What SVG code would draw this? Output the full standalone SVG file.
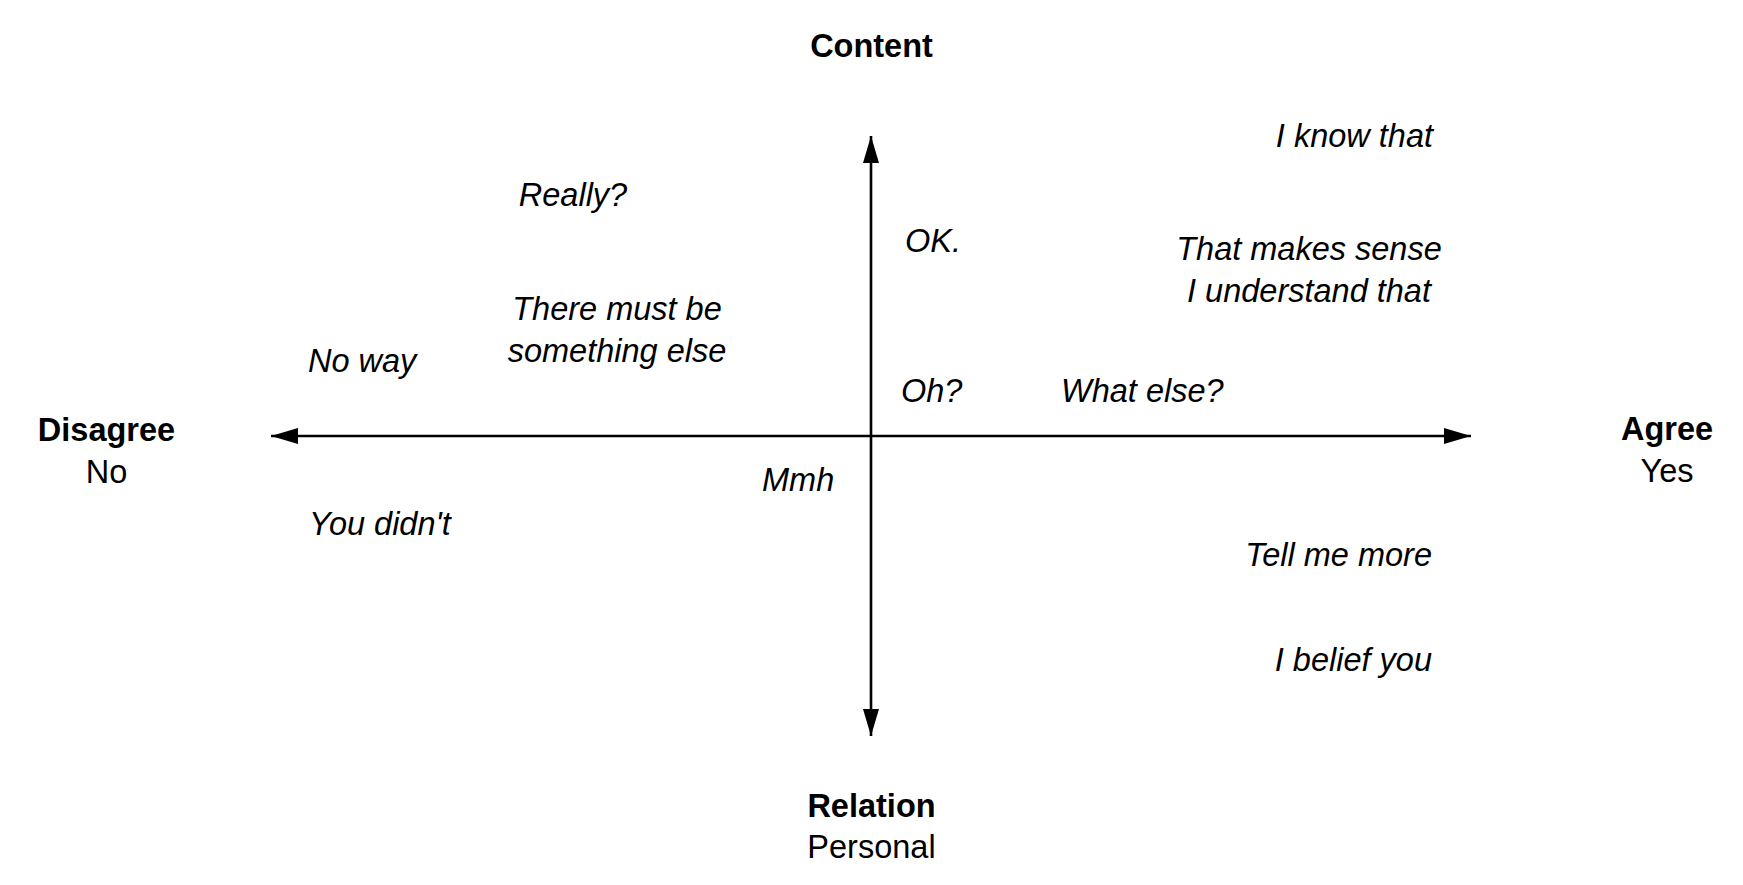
<svg xmlns="http://www.w3.org/2000/svg" width="1743" height="885" viewBox="0 0 1743 885">
<style>
text { font-family: "Liberation Sans", Arial, Helvetica, sans-serif; font-size: 32.5px; fill: #000; }
.b { font-weight: bold; }
.i { font-style: italic; }
.axis { stroke: #000; stroke-width: 2.6; fill: none; }
</style>
<defs>
<marker id="arr" markerUnits="userSpaceOnUse" markerWidth="28" markerHeight="18" refX="27" refY="8" orient="auto" viewBox="0 0 28 16">
<path d="M0,0 L27,8 L0,16 Z" fill="#000"/>
</marker>
</defs>
<rect width="1743" height="885" fill="#fff"/>
<g id="connectors">
<line class="axis" x1="871" y1="436" x2="871" y2="136" marker-end="url(#arr)"/>
<line class="axis" x1="871" y1="436" x2="871" y2="736" marker-end="url(#arr)"/>
<line class="axis" x1="871" y1="436" x2="271" y2="436" marker-end="url(#arr)"/>
<line class="axis" x1="871" y1="436" x2="1471" y2="436" marker-end="url(#arr)"/>
</g>
<g id="content"><text class="b" x="871.5" y="56.5" text-anchor="middle">Content</text></g>
<g id="relation"><text class="b" x="871.5" y="816.5" text-anchor="middle">Relation</text><text x="871.5" y="857.5" text-anchor="middle">Personal</text></g>
<g id="disagree"><text class="b" x="106.5" y="441" text-anchor="middle">Disagree</text><text x="106.5" y="483" text-anchor="middle">No</text></g>
<g id="agree"><text class="b" x="1667" y="440" text-anchor="middle">Agree</text><text x="1667" y="482" text-anchor="middle">Yes</text></g>
<g id="know"><text class="i" x="1433" y="146.5" text-anchor="end">I know that</text></g>
<g id="sense"><text class="i" x="1309" y="260" text-anchor="middle">That makes sense</text><text class="i" x="1309" y="302" text-anchor="middle">I understand that</text></g>
<g id="really"><text class="i" x="573" y="206" text-anchor="middle">Really?</text></g>
<g id="something"><text class="i" x="617" y="320" text-anchor="middle">There must be</text><text class="i" x="617" y="362" text-anchor="middle">something else</text></g>
<g id="noway"><text class="i" x="308" y="371.5">No way</text></g>
<g id="youdidnt"><text class="i" x="309" y="535">You didn't</text></g>
<g id="ok"><text class="i" x="905" y="251.5">OK.</text></g>
<g id="oh"><text class="i" x="901" y="401.5">Oh?</text></g>
<g id="whatelse"><text class="i" x="1061" y="401.5">What else?</text></g>
<g id="mmh"><text class="i" x="762" y="491">Mmh</text></g>
<g id="tellme"><text class="i" x="1432" y="565.5" text-anchor="end">Tell me more</text></g>
<g id="belief"><text class="i" x="1432" y="671" text-anchor="end">I belief you</text></g>
</svg>
